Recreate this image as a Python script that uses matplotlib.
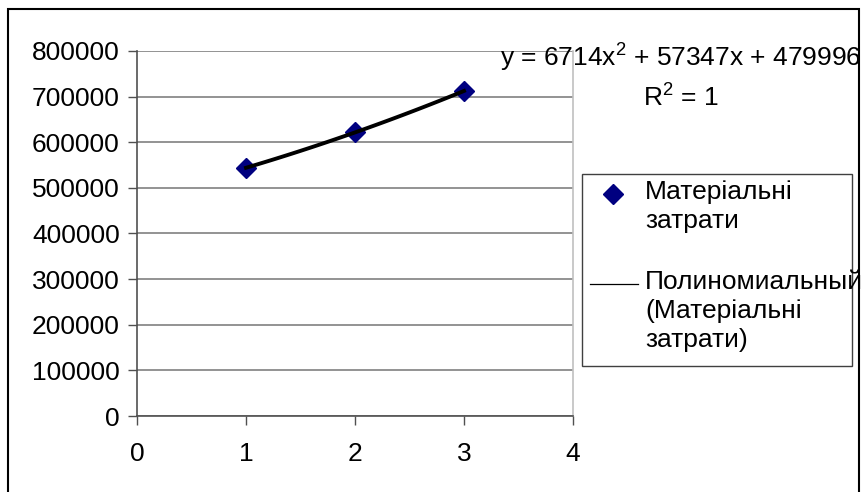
import numpy as np
import matplotlib
matplotlib.use("Agg")
import matplotlib.pyplot as plt
from matplotlib.patches import Rectangle
from matplotlib.lines import Line2D

plt.rcParams['font.family'] = ['Liberation Sans', 'DejaVu Sans']
plt.rcParams['mathtext.default'] = 'regular'

# data
x_vals = [1, 2, 3]
y_vals = [544057, 621546, 712463]
series_name = "Матеріальні\nзатрати"
trend_name = "Полиномиальный\n(Матеріальні\nзатрати)"
y_ticks = [0, 100000, 200000, 300000, 400000, 500000, 600000, 700000, 800000]
x_ticks = [0, 1, 2, 3, 4]

W, H = 863, 492
fig = plt.figure(figsize=(W / 100, H / 100), dpi=100)
ax = fig.add_axes([137 / W, 1 - 416 / H, (573 - 137) / W, (416 - 51) / H])

# polynomial trendline (2nd order) through the points
coef = np.polyfit(x_vals, y_vals, 2)
xs = np.linspace(min(x_vals), max(x_vals), 100)
ax.plot(xs, np.polyval(coef, xs), color='black', lw=2.8, zorder=4)
ax.plot(x_vals, y_vals, linestyle='none', marker='D', markersize=10,
        color='#000080', zorder=3)

ax.set_xlim(0, 4)
ax.set_ylim(0, 800000)
ax.set_xticks(x_ticks)
ax.set_yticks(y_ticks)
ax.yaxis.grid(True, color='#808080', lw=1.2)
ax.set_axisbelow(True)
ax.tick_params(axis='both', labelsize=19, direction='out', length=6.5,
               width=1, color='#505050')
ax.tick_params(axis='y', pad=6)
ax.tick_params(axis='x', pad=12)
ax.spines['top'].set_visible(False)
ax.spines['right'].set_color('#c0c0c0')
ax.spines['left'].set_color('#505050')
ax.spines['bottom'].set_color('#505050')
for s in ax.spines.values():
    s.set_linewidth(1.2)

# trendline equation
fig.text(500 / W, 1 - 67 / H, "y = 6714x$^2$ + 57347x + 479996",
         fontsize=19, va='baseline', ha='left')
fig.text(643 / W, 1 - 107 / H, "R$^2$ = 1", fontsize=19,
         va='baseline', ha='left')

# legend
fig.add_artist(Rectangle((582 / W, 1 - 366 / H), (852 - 582) / W, (366 - 174) / H,
                         transform=fig.transFigure, fill=False,
                         edgecolor='#404040', lw=1))
fig.add_artist(Line2D([613 / W], [1 - 194 / H], marker='D', markersize=10,
                      color='#000080', transform=fig.transFigure))
fig.text(645 / W, 1 - 180 / H, series_name, fontsize=19, va='top',
         ha='left', linespacing=1.25, transform=fig.transFigure)
fig.add_artist(Line2D([590 / W, 638 / W], [1 - 284 / H, 1 - 284 / H],
                      color='black', lw=0.9, transform=fig.transFigure))
fig.text(645 / W, 1 - 270 / H, trend_name, fontsize=19, va='top',
         ha='left', linespacing=1.25, transform=fig.transFigure)

# outer chart border
fig.add_artist(Rectangle((8 / W, -0.1), (859 - 8) / W, 1.1 - 8.5 / H,
                         transform=fig.transFigure, fill=False,
                         edgecolor='black', lw=1.5))

fig.savefig("out.png", dpi=100)
